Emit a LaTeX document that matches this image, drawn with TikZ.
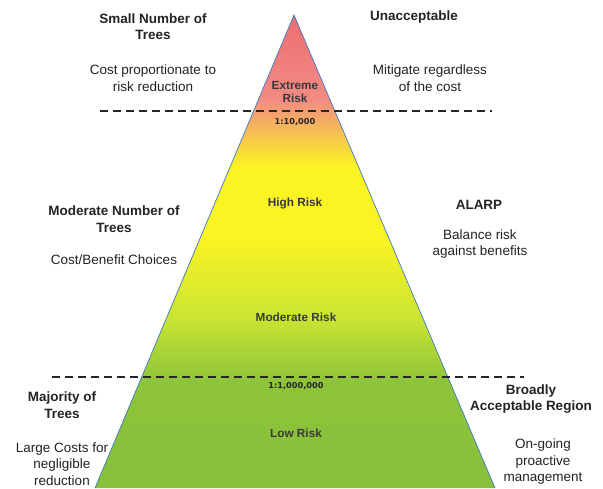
\documentclass[tikz,border=0pt]{standalone}
\usepackage{fontspec}
\setmainfont{Liberation Sans}
\newfontfamily\ratiofont{DejaVu Sans}
\definecolor{txt}{RGB}{35,35,40}
\definecolor{rtop}{RGB}{236,108,114}
\definecolor{rpink}{RGB}{242,140,130}
\definecolor{ryel}{RGB}{250,244,35}
\definecolor{rlime}{RGB}{200,228,50}
\definecolor{rgreen}{RGB}{142,196,58}
\definecolor{rgreen2}{RGB}{135,192,60}
\definecolor{edge}{RGB}{60,120,200}
\tikzset{
  title/.style={align=center,text=txt,font=\fontsize{13.5}{16.5}\selectfont\bfseries},
  body/.style={align=center,text=txt,font=\fontsize{13.5}{16.5}\selectfont},
  risk/.style={align=center,text=txt!90,font=\fontsize{11.8}{13}\selectfont\bfseries},
  ratio/.style={align=center,text=txt,font=\fontsize{8.2}{10}\selectfont\ratiofont\bfseries},
  divider/.style={line width=1.6pt,dash pattern=on 8pt off 5pt,black!85}
}
\begin{document}
\begin{tikzpicture}[x=1pt,y=-1pt]
\useasboundingbox (0,0) rectangle (603,488);
\fill[white] (0,0) rectangle (603,488);
% triangle
\coordinate (apex) at (294,15);
\coordinate (bl) at (95,488);
\coordinate (br) at (495,488);
\begin{scope}
\clip (apex) -- (bl) -- (br) -- cycle;
\shade[top color=rtop,bottom color=rpink] (0,10) rectangle (603,101);
\shade[top color=rpink,bottom color=ryel] (0,100) rectangle (603,166);
\fill[ryel] (0,165) rectangle (603,241);
\shade[top color=ryel,bottom color=rlime] (0,240) rectangle (603,321);
\shade[top color=rlime,bottom color=rgreen] (0,320) rectangle (603,381);
\shade[top color=rgreen,bottom color=rgreen2] (0,380) rectangle (603,490);
\end{scope}
\draw[edge,line width=0.7pt,line join=miter] (bl) -- (apex) -- (br);
% dividers
\coordinate (d1a) at (100,111);
\coordinate (d1b) at (492,111);
\coordinate (d2a) at (52,377);
\coordinate (d2b) at (524,377);
\draw[divider] (d1a) -- (d1b);
\draw[divider] (d2a) -- (d2b);
% inner labels
\node[risk] (extreme) at (295,91.5) {Extreme\\Risk};
\node[ratio] (r1) at (295,122) {1:10,000};
\node[risk] (high) at (295,203) {High Risk};
\node[risk] (moderate) at (296,317) {Moderate Risk};
\node[ratio] (r2) at (296,386) {1:1,000,000};
\node[risk] (low) at (296,433) {Low Risk};
% left column
\node[title] (small) at (153,26.5) {Small Number of\\Trees};
\node[body] (costprop) at (153,78) {Cost proportionate to\\risk reduction};
\node[title] (modnum) at (114,219) {Moderate Number of\\Trees};
\node[body] (costben) at (114,260) {Cost/Benefit Choices};
\node[title] (major) at (62,405) {Majority of\\Trees};
\node[body] (large) at (62,464) {Large Costs for\\negligible\\reduction};
% right column
\node[title] (unacc) at (414,17) {Unacceptable};
\node[body] (mitig) at (430,78) {Mitigate regardless\\of the cost};
\node[title] (alarp) at (479,205) {ALARP};
\node[body] (balance) at (480,244) {Balance risk\\against benefits};
\node[title] (broad) at (531,399) {Broadly\\Acceptable Region};
\node[body] (ongoing) at (543,462) {On-going\\proactive\\management};
\end{tikzpicture}
\end{document}
